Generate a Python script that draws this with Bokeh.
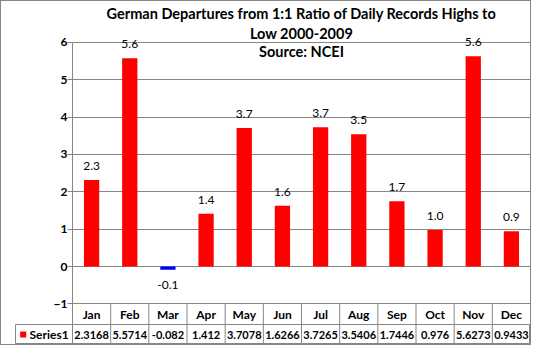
from bokeh.plotting import figure
from bokeh.layouts import column
from bokeh.models import Range1d, FixedTicker
from bokeh.core.properties import value
from bokeh.embed import file_html
from bokeh.resources import INLINE

# ---- data ----
months = ["Jan", "Feb", "Mar", "Apr", "May", "Jun", "Jul", "Aug", "Sep", "Oct", "Nov", "Dec"]
series1 = [2.3168, 5.5714, -0.082, 1.412, 3.7078, 1.6266, 3.7265, 3.5406, 1.7446, 0.976, 5.6273, 0.9433]
y_ticks = [-1, 0, 1, 2, 3, 4, 5, 6]
title_lines = ["German Departures from 1:1 Ratio of Daily Records Highs to",
               "Low 2000-2009",
               "Source: NCEI"]
series_name = "Series1"

# ---- style / layout ----
FONT = "Lato"
GRID = "#868686"
POS_COLOR = "#FF0000"
NEG_COLOR = "#0000FF"
W = 529
H_TOP = 323
H_ROW = 20
LEFT = 71
ROW_LEFT = 14
PX_PER_UNIT = 37.38
TOP_PAD_PX = 40.8

n = len(months)
xc = [i + 0.5 for i in range(n)]
px_per_col = (W - LEFT) / n
y_top_tick = max(y_ticks)
y_bot_tick = min(y_ticks)
y_hi = y_top_tick + TOP_PAD_PX / PX_PER_UNIT
y_lo = y_hi - H_TOP / PX_PER_UNIT

colors = [POS_COLOR if v >= 0 else NEG_COLOR for v in series1]
labels = ["%.1f" % v for v in series1]
label_off = [-14 if v >= 0 else 15 for v in series1]
table_vals = [("%.4f" % v).rstrip("0").rstrip(".") for v in series1]

# ---- main plot (with header row of the data table) ----
p = figure(width=W, height=H_TOP, x_range=Range1d(0, n), y_range=Range1d(y_lo, y_hi),
           output_backend="svg", toolbar_location=None, title=None,
           x_axis_location=None, frame_align=False,
           min_border_left=LEFT, min_border_right=0, min_border_top=0, min_border_bottom=0)
p.outline_line_color = None
p.xgrid.visible = False
p.ygrid.ticker = FixedTicker(ticks=y_ticks)
p.ygrid.grid_line_color = GRID
p.ygrid.grid_line_width = 1

ax = p.yaxis[0]
ax.ticker = FixedTicker(ticks=y_ticks)
ax.bounds = (y_lo, y_top_tick)
ax.axis_line_color = GRID
ax.major_tick_line_color = GRID
ax.major_tick_out = 5
ax.major_tick_in = 0
ax.minor_tick_line_color = None
ax.major_label_text_font = FONT
ax.major_label_text_font_size = "12px"
ax.major_label_text_font_style = "bold"
ax.major_label_text_color = "#000000"
ax.major_label_standoff = 0

# bars
p.vbar(x=xc, top=series1, bottom=0, width=0.4, fill_color=colors, line_color=None)

# data labels
p.text(x=xc, y=series1, text=labels, y_offset=label_off,
       text_align="center", text_baseline="middle",
       text_font=value(FONT), text_font_size="12px", text_color="#000000")

# title
p.text(x=[n / 2] * 3, y=[y_hi] * 3, y_offset=[12, 31.5, 50], text=title_lines,
       text_align="center", text_baseline="middle",
       text_font=value(FONT), text_font_size="14.5px", text_font_style="bold",
       text_color="#000000")

# header row grid + month names
p.segment(x0=list(range(1, n)), y0=[y_bot_tick] * (n - 1),
          x1=list(range(1, n)), y1=[y_lo] * (n - 1), line_color=GRID, line_width=1)
hdr_y = (y_bot_tick + y_lo) / 2
p.text(x=xc, y=[hdr_y] * n, text=months, text_align="center", text_baseline="middle",
       text_font=value(FONT), text_font_size="12px", text_font_style="bold",
       text_color="#000000")

# ---- series row of the data table ----
L = (LEFT - ROW_LEFT) / px_per_col
q = figure(width=W, height=H_ROW, x_range=Range1d(-L, n), y_range=Range1d(0, 1),
           output_backend="svg", toolbar_location=None, title=None,
           x_axis_location=None, y_axis_location=None, frame_align=False,
           min_border_left=ROW_LEFT, min_border_right=0, min_border_top=0, min_border_bottom=0)
q.outline_line_color = GRID
q.grid.visible = False
q.segment(x0=list(range(0, n)), y0=[0] * n, x1=list(range(0, n)), y1=[1] * n,
          line_color=GRID, line_width=1)
q.text(x=xc, y=[0.5] * n, text=table_vals, text_align="center", text_baseline="middle",
       text_font=value(FONT), text_font_size="11px", text_font_style="bold",
       text_color="#000000")
q.scatter(x=[-L + 7.7 / px_per_col], y=[0.5], marker="square", size=6,
          fill_color=POS_COLOR, line_color=None)
q.text(x=[-L], y=[0.5], x_offset=[14], text=[series_name], text_align="left",
       text_baseline="middle", text_font=value(FONT), text_font_size="12px",
       text_font_style="bold", text_color="#000000")

layout = column(p, q, spacing=0, styles={"border": "1px solid #868686"})

open("out.html", "w").write(file_html(layout, INLINE))
